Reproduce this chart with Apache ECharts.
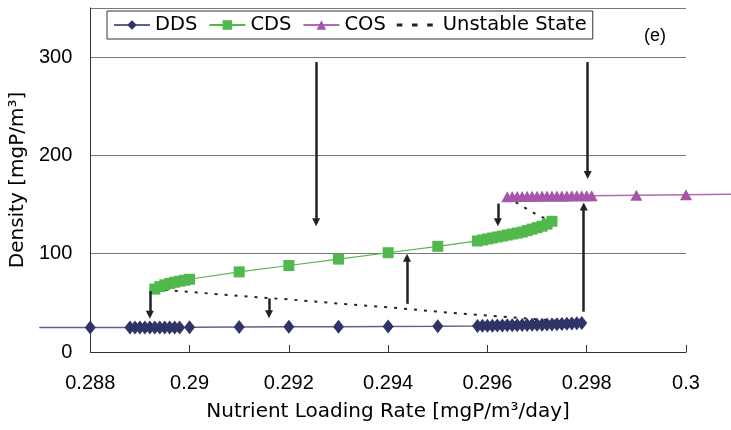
<!DOCTYPE html>
<html>
<head>
<meta charset="utf-8">
<script src="https://cdn.jsdelivr.net/npm/echarts@6/dist/echarts.min.js"></script>
<style>
  html, body { margin: 0; padding: 0; background: #fff; }
  #chart { width: 731px; height: 430px; }
</style>
</head>
<body>
<div id="chart"></div>
<script>
// x values (mgP/m3/day), y values in mgP/m3
const ddsX = [0.288,
  0.2888, 0.2889, 0.2890, 0.2891, 0.2892, 0.2893, 0.2894, 0.2895, 0.2896, 0.2897, 0.2898,
  0.290, 0.291, 0.292, 0.293, 0.294, 0.295,
  0.2958, 0.2959, 0.2960, 0.2961, 0.2962, 0.2963, 0.2964, 0.2965, 0.2966, 0.2967, 0.2968,
  0.2969, 0.2970, 0.2971, 0.2972, 0.2973, 0.2974, 0.2975, 0.2976, 0.2977, 0.2978, 0.2979]
const ddsY = [25,
  25, 25, 25, 25, 25, 25, 25, 25, 25, 25, 25,
  25.2, 25.4, 25.6, 25.8, 26, 26.2,
  26.5, 26.6, 26.7, 26.8, 26.9, 27.0, 27.1, 27.2, 27.3, 27.4, 27.5,
  27.6, 27.7, 27.8, 28.0, 28.1, 28.3, 28.5, 28.7, 28.9, 29.2, 29.6]
// the DDS line runs on past the left edge of the axis
const ddsTailX = [0.287, 0.288]
const ddsTailY = [25, 25]

const cdsX = [0.2893, 0.2894, 0.2895, 0.2896, 0.2897, 0.2898, 0.2899, 0.290,
  0.291, 0.292, 0.293, 0.294, 0.295,
  0.2958, 0.2959, 0.2960, 0.2961, 0.2962, 0.2963, 0.2964, 0.2965,
  0.2966, 0.2967, 0.2968, 0.2969, 0.2970, 0.2971, 0.2972, 0.2973]
const cdsY = [64, 66.5, 68.3, 69.8, 71, 72, 73, 74,
  81.5, 88, 94.5, 101, 107.5,
  113, 114, 115, 116, 117, 118, 119, 120,
  121, 122, 123.5, 125, 126.5, 128, 130, 133]

const cosX = [0.2964, 0.2965, 0.2966, 0.2967, 0.2968, 0.2969, 0.2970, 0.2971, 0.2972,
  0.2973, 0.2974, 0.2975, 0.2976, 0.2977, 0.2978, 0.2979, 0.2980, 0.2981,
  0.299, 0.300]
const cosY = [158, 158.1, 158.2, 158.3, 158.4, 158.5, 158.5, 158.6, 158.6,
  158.7, 158.7, 158.8, 158.8, 158.9, 158.9, 159, 159, 159.1,
  159.6, 160.1]
// and the COS line runs on past the right edge
const cosTailX = [0.300, 0.301]
const cosTailY = [160.1, 160.6]

const unstableLowX = [0.2893, 0.2898, 0.291, 0.292, 0.293, 0.294, 0.295, 0.296, 0.2967, 0.2975, 0.2979]
const unstableLowY = [64, 62, 57, 53.5, 49.3, 45.5, 41, 37, 34.5, 31.5, 29.6]
const unstableHighX = [0.2964, 0.2966, 0.2970, 0.2973]
const unstableHighY = [158, 151.5, 139.5, 133]

// transition arrows: x, start density, end density
const arrowX = [0.2892, 0.2916, 0.29438, 0.29255, 0.29621, 0.29802, 0.29794]
const arrowFrom = [62, 54.5, 49, 295, 151, 295, 41]
const arrowTo = [38, 38.5, 96, 132, 132, 180, 148]

const xTicks = ['0.288', '0.29', '0.292', '0.294', '0.296', '0.298', '0.3']
const yTicks = [0, 100, 200, 300]

const X_MIN = 0.288
const X_MAX = 0.300
const TAIL_MIN = 0.287
const TAIL_MAX = 0.301

const GRID_LEFT = 89
const GRID_RIGHT = 45
const GRID_TOP = 8
const GRID_BOTTOM = 78
const CHART_W = 731

function pairs(xs, ys) {
  return xs.map((x, i) => [x, ys[i]])
}

// second, wider grid with hidden axes on the same scale, only for the tails
const pxPerUnit = (CHART_W - GRID_LEFT - GRID_RIGHT) / (X_MAX - X_MIN)
const tailLeft = GRID_LEFT - (X_MIN - TAIL_MIN) * pxPerUnit
const tailRight = GRID_RIGHT - (TAIL_MAX - X_MAX) * pxPerUnit

const chart = echarts.init(document.getElementById('chart'))

const textFont = 'DejaVu Sans'
const numFont = 'Liberation Sans'

const option = {
  animation: false,
  title: {
    text: '(e)',
    left: 639,
    top: 22,
    textStyle: { fontFamily: numFont, fontSize: 18, fontWeight: 'normal', color: '#000' },
  },
  legend: {
    data: [
      'DDS', 'CDS', 'COS',
      {
        name: 'Unstable State',
        icon: 'path://M0,0h4v2h-4zM11,0h4v2h-4zM22,0h4v2h-4z',
        textStyle: { padding: [0, 0, 0, 5] },
      },
    ],
    left: 107,
    top: 11,
    padding: [4, 6, 4, 6],
    itemWidth: 36,
    itemHeight: 12,
    itemGap: 11,
    borderColor: '#333',
    borderWidth: 1,
    borderRadius: 0,
    textStyle: { fontFamily: textFont, fontSize: 19.5, color: '#000' },
  },
  grid: [
    { left: GRID_LEFT, right: GRID_RIGHT, top: GRID_TOP, bottom: GRID_BOTTOM },
    { left: tailLeft, right: tailRight, top: GRID_TOP, bottom: GRID_BOTTOM },
  ],
  xAxis: [
    {
      type: 'value',
      gridIndex: 0,
      min: X_MIN,
      max: X_MAX,
      interval: 0.002,
      name: 'Nutrient Loading Rate [mgP/m³/day]',
      nameLocation: 'middle',
      nameGap: 50,
      nameTextStyle: { fontFamily: textFont, fontSize: 20, color: '#000' },
      axisLine: { lineStyle: { color: '#333', width: 1 } },
      axisTick: { show: true, inside: true, length: 7, lineStyle: { color: '#333' } },
      splitLine: { show: false },
      axisLabel: {
        fontFamily: numFont,
        fontSize: 20,
        color: '#000',
        margin: 21,
        formatter: v => {
          const idx = Math.round((v - X_MIN) / 0.002)
          return xTicks[idx] !== undefined ? xTicks[idx] : ''
        },
      },
    },
    {
      type: 'value',
      gridIndex: 1,
      min: TAIL_MIN,
      max: TAIL_MAX,
      show: false,
    },
  ],
  yAxis: [
    {
      type: 'value',
      gridIndex: 0,
      min: 0,
      max: 350,
      interval: 100,
      name: 'Density [mgP/m³]',
      nameLocation: 'middle',
      nameGap: 51,
      nameTextStyle: { fontFamily: textFont, fontSize: 20, color: '#000' },
      axisLine: { show: true, lineStyle: { color: '#333', width: 1 } },
      axisTick: { show: false },
      splitLine: { lineStyle: { color: '#777', width: 1.2 } },
      axisLabel: {
        fontFamily: numFont,
        fontSize: 20,
        color: '#000',
        margin: 18,
        formatter: v => (yTicks.indexOf(v) >= 0 ? String(v) : ''),
      },
    },
    {
      type: 'value',
      gridIndex: 1,
      min: 0,
      max: 350,
      show: false,
      splitLine: { show: false },
    },
  ],
  series: [
    {
      name: 'DDS',
      type: 'line',
      data: pairs(ddsX, ddsY),
      symbol: 'diamond',
      symbolSize: [11, 14],
      itemStyle: { color: '#2f3366' },
      lineStyle: { color: '#5d6090', width: 1.5 },
      z: 3,
    },
    {
      name: 'DDS tail',
      type: 'line',
      xAxisIndex: 1,
      yAxisIndex: 1,
      data: pairs(ddsTailX, ddsTailY),
      symbol: 'none',
      lineStyle: { color: '#5d6090', width: 1.5 },
      z: 2,
    },
    {
      name: 'CDS',
      type: 'line',
      data: pairs(cdsX, cdsY),
      symbol: 'rect',
      symbolSize: 11,
      itemStyle: { color: '#52b84c' },
      lineStyle: { color: '#52b84c', width: 1.2 },
      z: 3,
    },
    {
      name: 'COS',
      type: 'line',
      data: pairs(cosX, cosY),
      symbol: 'triangle',
      symbolSize: [12, 11],
      itemStyle: { color: '#a656a8' },
      lineStyle: { color: '#b26ab3', width: 1.5 },
      z: 3,
    },
    {
      name: 'COS tail',
      type: 'line',
      xAxisIndex: 1,
      yAxisIndex: 1,
      data: pairs(cosTailX, cosTailY),
      symbol: 'none',
      lineStyle: { color: '#b26ab3', width: 1.5 },
      z: 2,
    },
    {
      name: 'Unstable State',
      type: 'line',
      data: pairs(unstableLowX, unstableLowY),
      symbol: 'none',
      itemStyle: { color: '#222' },
      lineStyle: { color: '#222', width: 2, type: [3, 7] },
      z: 2,
    },
    {
      name: 'Unstable State',
      type: 'line',
      data: pairs(unstableHighX, unstableHighY),
      symbol: 'none',
      itemStyle: { color: '#222' },
      lineStyle: { color: '#222', width: 2, type: [3, 7] },
      z: 2,
    },
    {
      name: 'arrows',
      type: 'line',
      data: [],
      z: 4,
      markLine: {
        silent: true,
        symbol: ['none', 'triangle'],
        symbolSize: 8,
        label: { show: false },
        lineStyle: { color: '#222', width: 2.5, type: 'solid' },
        emphasis: { disabled: true },
        data: arrowX.map((x, i) => [
          { coord: [x, arrowFrom[i]] },
          { coord: [x, arrowTo[i]] },
        ]),
      },
    },
  ],
}

chart.setOption(option)
</script>
</body>
</html>
